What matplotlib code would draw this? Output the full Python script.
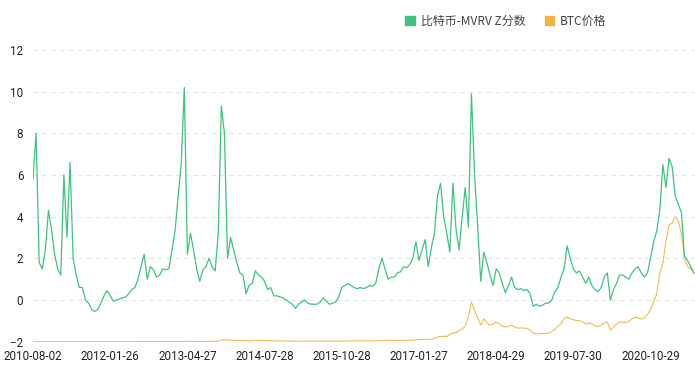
import numpy as np
import matplotlib
matplotlib.use("Agg")
import matplotlib.pyplot as plt
from matplotlib.patches import Patch

# one sample every 0.04 of a tick interval, 25 samples between labels
step_per_tick = 25
tick_labels = ["2010-08-02", "2012-01-26", "2013-04-27", "2014-07-28", "2015-10-28",
               "2017-01-27", "2018-04-29", "2019-07-30", "2020-10-29"]

mvrv = [
    # 2010-08 .. 2012-01
    5.8, 8.0, 1.8, 1.5, 2.4, 4.3, 3.4, 2.2, 1.5, 1.2, 6.0, 3.0, 6.6, 2.0, 1.2, 0.6, 0.6, 0.0,
    -0.15, -0.45, -0.55, -0.45, -0.15, 0.2, 0.45,
    # 2012-01 .. 2013-04
    0.2, -0.05, 0.0, 0.05, 0.1, 0.15, 0.3, 0.5, 0.6, 1.0, 1.6, 2.2, 1.0, 1.6, 1.45, 1.1, 1.2, 1.5,
    1.45, 1.5, 2.4, 3.3, 5.0, 6.5, 10.2,
    # 2013-04 .. 2014-07
    2.2, 3.2, 2.4, 1.5, 0.9, 1.45, 1.6, 2.0, 1.6, 1.4, 3.2, 9.3, 8.0, 2.0, 3.0, 2.4, 1.8, 1.3,
    1.2, 0.3, 0.7, 0.8, 1.4, 1.2, 1.1,
    # 2014-07 .. 2015-10
    0.9, 0.5, 0.6, 0.2, 0.2, 0.15, 0.1, 0.0, -0.1, -0.2, -0.4, -0.2, -0.1, 0.0, -0.15, -0.2,
    -0.2, -0.2, -0.1, 0.1, -0.05, -0.2, -0.15, -0.1, 0.15,
    # 2015-10 .. 2017-01
    0.6, 0.7, 0.8, 0.7, 0.6, 0.55, 0.6, 0.55, 0.6, 0.7, 0.65, 0.8, 1.5, 2.0, 1.5, 1.0, 1.1, 1.1,
    1.3, 1.35, 1.6, 1.55, 1.7, 2.0, 2.8,
    # 2017-01 .. 2018-04
    1.9, 2.4, 2.9, 1.6, 2.5, 3.2, 5.0, 5.6, 4.0, 3.2, 2.3, 5.6, 3.4, 2.4, 4.0, 5.4, 3.5, 9.9,
    6.0, 3.6, 0.9, 2.3, 1.8, 1.2, 0.7,
    # 2018-04 .. 2019-07
    1.5, 1.3, 0.8, 0.35, 0.7, 1.1, 0.6, 0.5, 0.55, 0.45, 0.5, 0.3, -0.3, -0.2, -0.3, -0.25,
    -0.15, -0.15, 0.0, 0.4, 0.6, 1.1, 1.5, 2.6, 2.0,
    # 2019-07 .. 2020-10
    1.5, 1.3, 1.4, 1.1, 0.8, 1.1, 0.7, 0.5, 0.4, 0.6, 1.1, 1.3, 0.0, 0.5, 0.8, 1.2, 1.2, 1.1,
    1.0, 1.3, 1.5, 1.6, 1.3, 1.1, 1.3,
    # 2020-10 .. 2021-07
    2.0, 2.8, 3.3, 4.3, 6.5, 5.4, 6.8, 6.4, 5.0, 4.6, 4.2, 2.1, 1.9, 1.6, 1.3,
]

btc_price = [
    0.06, 0.07, 0.1, 0.2, 0.3, 0.3, 0.5, 0.9, 1, 1, 8, 15, 20, 15, 13, 10, 7, 5, 3, 3, 3, 3, 4, 5, 5,
    5, 5, 5, 5, 5, 6, 7, 8, 8, 10, 12, 11, 10, 12, 12, 12, 13, 13, 13, 14, 20, 30, 40, 90, 200,
    130, 120, 110, 95, 80, 95, 105, 125, 120, 130, 220, 900, 1000, 700, 800, 650, 600, 560, 480,
    440, 450, 500, 640, 610, 600,
    590, 520, 480, 380, 330, 380, 350, 320, 320, 280, 230, 220, 250, 240, 250, 240, 230, 240,
    230, 240, 280, 270, 230, 230, 240,
    290, 330, 420, 360, 430, 410, 380, 410, 420, 410, 420, 430, 450, 530, 680, 650, 620, 650,
    580, 600, 610, 640, 700, 740, 900,
    950, 1000, 1100, 1150, 1200, 1500, 2200, 2500, 2600, 2500, 3500, 4200, 4300, 5500, 6000,
    7500, 12000, 19000, 15000, 11500, 8000, 11000, 9000, 8000, 8500,
    9500, 8500, 7500, 7000, 7400, 8000, 7000, 6500, 6600, 6500, 6400, 5600, 4000, 3700, 3800,
    3900, 4000, 4100, 5000, 5800, 7500, 8500, 11000, 12000, 11000,
    10500, 10200, 10000, 9500, 8500, 9000, 8500, 7500, 7300, 8000, 9000, 9500, 5500, 7000, 8500,
    9500, 9300, 9200, 9700, 11000, 11800, 11500, 10800, 11500, 13000,
    15500, 19000, 23000, 33000, 38000, 48000, 56000, 57000, 60000, 58000, 52000, 40000, 36000,
    35000, 33000,
]

green = "#3dc47e"
orange = "#efb443"

x = np.arange(len(mvrv))

fig = plt.figure(figsize=(6.95, 3.74), dpi=100)
ax = fig.add_axes([33 / 695, (374 - 341.7) / 374, 1 - 33 / 695, 291.7 / 374])
ax2 = ax.twinx()

ax.plot(x, mvrv, color=green, linewidth=0.9, zorder=3)
ax2.plot(x, btc_price, color=orange, linewidth=0.8, alpha=0.9)

ax.set_zorder(ax2.get_zorder() + 1)
ax.patch.set_visible(False)

ax.set_ylim(-2, 12)
ax.set_yticks(range(-2, 13, 2))
ax2.set_ylim(0, 140000)
ax2.axis("off")

ax.set_xlim(0, 214.4)
ax.set_xticks([i * step_per_tick for i in range(len(tick_labels))])
ax.set_xticklabels(tick_labels)

for side in ["top", "right", "left", "bottom"]:
    ax.spines[side].set_visible(False)
ax.tick_params(axis="both", length=0, labelsize=8.4, colors="#222222")
ax.tick_params(axis="y", pad=7)
ax.tick_params(axis="x", pad=6)
for lbl in ax.get_xticklabels() + ax.get_yticklabels():
    lbl.set_family("Roboto")

ax.grid(axis="y", color="#e4e4e4", linestyle=(0, (4, 4)), linewidth=0.8)
ax.set_axisbelow(True)

handles = [Patch(color=green, label="比特币-MVRV Z分数"), Patch(color=orange, label="BTC价格")]
fig.legend(handles=handles, loc="center", bbox_to_anchor=(506 / 695, 1 - 21 / 374), ncol=2,
           frameon=False, handlelength=0.8, handleheight=0.8, handletextpad=0.5,
           columnspacing=1.6, prop={"family": ["Noto Sans CJK SC", "DejaVu Sans"], "size": 8.6},
           labelcolor="#444444")

fig.savefig("out.png", dpi=100)
